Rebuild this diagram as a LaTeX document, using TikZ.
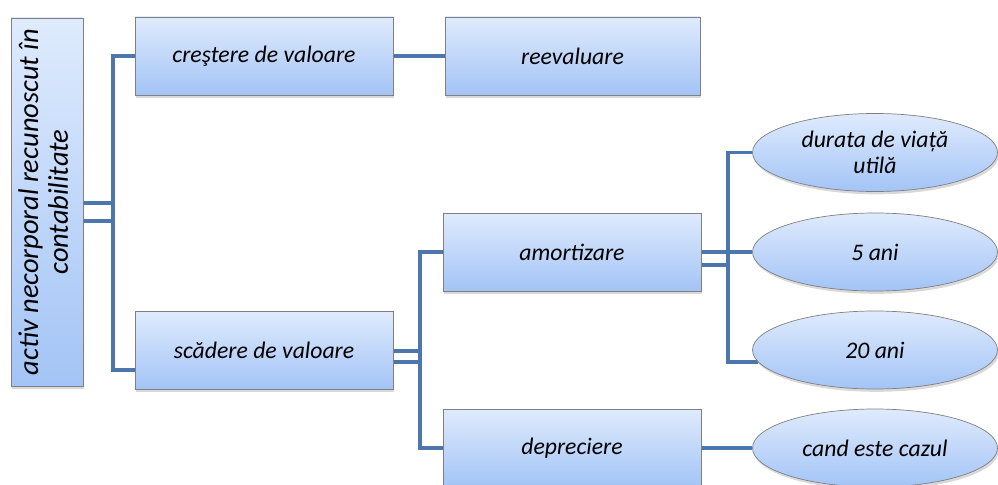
\documentclass[tikz,border=0pt]{standalone}
\usepackage{fontspec}
\setmainfont{Carlito}
\usetikzlibrary{positioning, shapes.geometric, shadows, backgrounds}

\definecolor{boxtop}{RGB}{223,235,253}
\definecolor{boxbot}{RGB}{163,196,246}
\definecolor{linkblue}{RGB}{76,118,172}
\definecolor{edgegray}{RGB}{128,128,128}

\tikzset{
  box/.style={rectangle, draw=edgegray, top color=boxtop, bottom color=boxbot,
    minimum width=5.16cm, minimum height=1.56cm, inner sep=0pt,
    font=\fontsize{13.5}{15}\selectfont\itshape,
    drop shadow={opacity=0.3, shadow xshift=0.8pt, shadow yshift=-1.6pt}},
  oval/.style={ellipse, draw=edgegray, top color=boxtop, bottom color=boxbot,
    minimum width=4.9cm, minimum height=1.56cm, inner sep=0pt, align=center,
    font=\fontsize{13.5}{14.5}\selectfont\itshape,
    drop shadow={opacity=0.3, shadow xshift=0.8pt, shadow yshift=-1.6pt}},
  link/.style={draw=linkblue, line width=2.2pt}
}

\begin{document}
\begin{tikzpicture}
\useasboundingbox (0,0) rectangle (19.96,-9.7);

% root (vertical box)
\node[box, minimum width=1.44cm, minimum height=7.36cm, font=\fontsize{16.2}{17}\selectfont\itshape]
  (activ) at (0.94,-4.04)
  {\rotatebox{90}{\begin{tabular}{@{}c@{}}activ necorporal recunoscut în\\contabilitate\end{tabular}}};

% second column
\node[box] (crestere) at (5.28,-1.12) {creştere de valoare};
\node[box] (scadere)  at (5.28,-7.00) {scădere de valoare};

% third column
\node[box, minimum width=5.1cm] (reevaluare) at (11.45,-1.12) {reevaluare};
\node[box] (amortizare) at (11.44,-5.04) {amortizare};
\node[box] (depreciere) at (11.44,-8.96) {depreciere};

% ellipses on the right
\node[oval] (durata) at (17.5,-3.05) {durata de viață\\utilă};
\node[oval] (ani5)   at (17.5,-5.04) {5 ani};
\node[oval] (ani20)  at (17.5,-7.00) {20 ani};
\node[oval] (caz)    at (17.5,-8.96) {cand este cazul};

% junction points of the brackets
\coordinate (j1) at (2.26,-4.24);
\coordinate (j2) at (8.40,-7.10);
\coordinate (j3) at (14.56,-5.16);

% start points of the double lines
\coordinate (a1) at ([yshift=-0.02cm]activ.east);
\coordinate (a2) at ([yshift=-0.38cm]activ.east);
\coordinate (s1) at ([yshift=-0.02cm]scadere.east);
\coordinate (s2) at ([yshift=-0.24cm]scadere.east);
\coordinate (m1) at (amortizare.east);
\coordinate (m2) at ([yshift=-0.26cm]amortizare.east);

\begin{scope}[on background layer]
% root to second column
\draw[link] (a1) -- (a1 -| j1);
\draw[link] (a2) -- (a2 -| j1);
\draw[link] (crestere.west) -| (j1) |- ([yshift=-0.4cm]scadere.west);

% second to third column
\draw[link] (crestere.east) -- (reevaluare.west);
\draw[link] (s1) -- (s1 -| j2);
\draw[link] (s2) -- (s2 -| j2);
\draw[link] (amortizare.west) -| (j2) |- (depreciere.west);

% third column to ellipses
\draw[link] (m1) -- (m1 -| j3);
\draw[link] (m2) -- (m2 -| j3);
\draw[link] (durata.west) -| (j3) |- (ani20.186);
\draw[link] (j3 |- ani5.west) -- (ani5.west);
\draw[link] (depreciere.east) -- (caz.west);
\end{scope}

\end{tikzpicture}
\end{document}
